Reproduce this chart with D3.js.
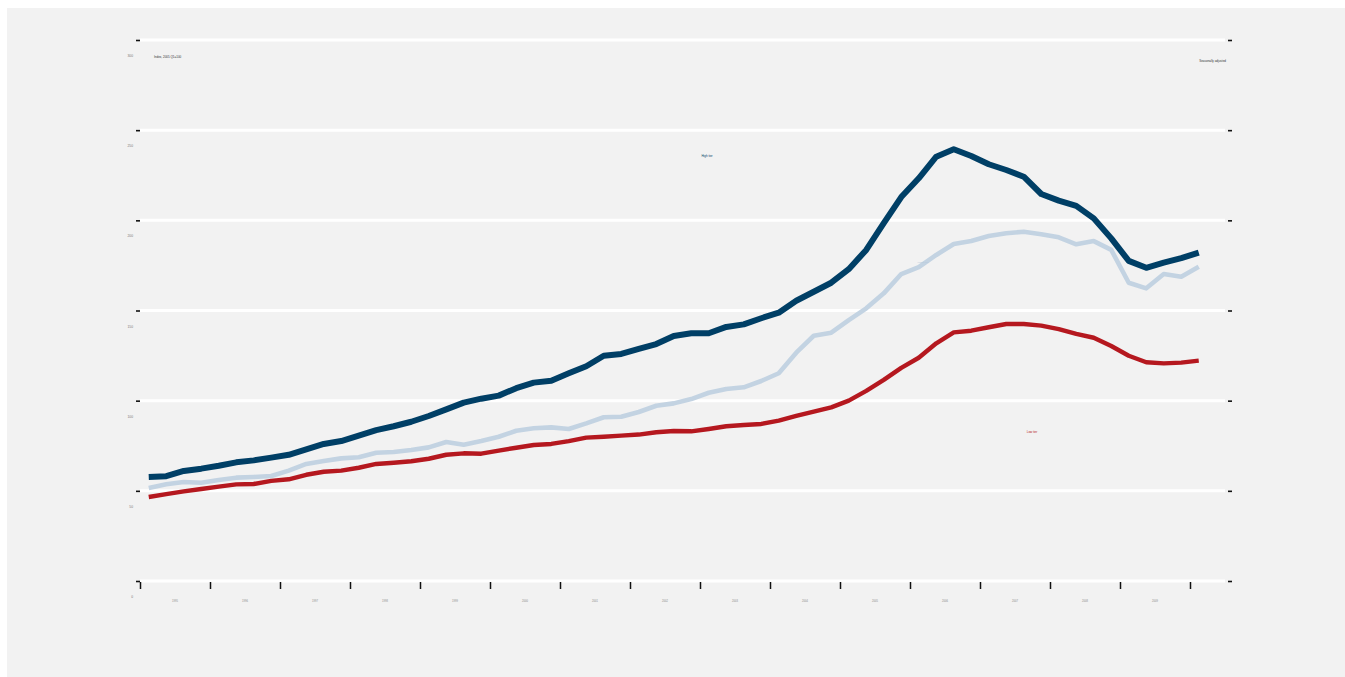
<!DOCTYPE html>
<html>
<head>
<meta charset="utf-8">
<script src="https://cdn.jsdelivr.net/npm/d3@7"></script>
<style>
  html, body { margin: 0; padding: 0; background: #ffffff; }
  svg { display: block; font-family: "Liberation Sans", Arial, sans-serif; }
</style>
</head>
<body>
<div id="chart"></div>
<script>
// quarterly index values, 1995 Q1 .. 2010 Q1
const startYear = 1995;
const yearLabels = ['1995', '1996', '1997', '1998', '1999', '2000', '2001', '2002',
  '2003', '2004', '2005', '2006', '2007', '2008', '2009'];
const yTicks = [0, 50, 100, 150, 200, 250, 300];

const highTier = [57.7, 58.1, 61.0, 62.3, 63.9, 65.8, 66.9, 68.4, 70.0, 73.0,
  76.0, 77.6, 80.6, 83.7, 85.8, 88.3, 91.5, 95.2, 98.9, 101.1,
  102.8, 106.9, 110.0, 111.1, 115.2, 119.1, 124.9, 125.9, 128.7, 131.4,
  135.9, 137.4, 137.4, 140.9, 142.3, 145.7, 148.8, 155.4, 160.4, 165.4,
  172.9, 183.6, 198.4, 212.9, 223.3, 235.3, 239.4, 235.7, 231.1, 227.9,
  224.2, 214.6, 210.9, 208.0, 201.1, 190.0, 177.5, 173.7, 176.5, 179.0, 182.1];

const middleTier = [51.6, 53.6, 54.9, 54.5, 56.0, 57.3, 57.7, 58.2, 61.2, 64.9,
  66.5, 68.0, 68.6, 71.1, 71.5, 72.6, 74.1, 77.1, 75.6, 77.6,
  80.0, 83.3, 84.7, 85.2, 84.3, 87.4, 90.8, 91.1, 93.7, 97.2,
  98.5, 100.9, 104.4, 106.5, 107.4, 110.9, 115.2, 126.6, 136.0, 137.7,
  144.7, 151.2, 159.5, 170.2, 174.0, 180.8, 186.9, 188.5, 191.3, 192.8,
  193.7, 192.3, 190.6, 186.7, 188.5, 183.6, 165.4, 162.3, 170.2, 168.7, 174.3];

const lowTier = [46.6, 48.2, 49.7, 51.0, 52.3, 53.6, 53.8, 55.5, 56.4, 58.9,
  60.6, 61.2, 62.8, 64.9, 65.6, 66.4, 67.8, 70.0, 70.8, 70.6,
  72.3, 73.9, 75.4, 76.0, 77.6, 79.5, 80.0, 80.6, 81.2, 82.5,
  83.2, 83.0, 84.3, 85.8, 86.5, 87.1, 88.9, 91.5, 93.9, 96.3,
  100.0, 105.4, 111.5, 118.2, 123.8, 131.8, 137.9, 138.8, 140.7, 142.5,
  142.5, 141.6, 139.7, 137.0, 134.9, 130.3, 124.9, 121.3, 120.7, 121.1, 122.2];

const width = 1345, height = 677;
const margin = { top: 40, right: 120, bottom: 96, left: 140 };

const svg = d3.select('#chart').append('svg')
  .attr('width', width)
  .attr('height', height);

svg.append('rect')
  .attr('x', 7).attr('y', 8)
  .attr('width', width - 7).attr('height', height - 8)
  .attr('fill', '#f2f2f2');

// x position of quarter i sits in the middle of the quarter
const quarterPos = i => startYear + (i + 0.5) / 4;

const x = d3.scaleLinear()
  .domain([startYear, startYear + 15.5])
  .range([margin.left, width - margin.right]);

const y = d3.scaleLinear()
  .domain([0, 300])
  .range([height - margin.bottom, margin.top]);

// gridlines
svg.append('g')
  .selectAll('line')
  .data(yTicks)
  .join('line')
  .attr('x1', x.range()[0])
  .attr('x2', x.range()[1])
  .attr('y1', d => y(d))
  .attr('y2', d => y(d))
  .attr('stroke', '#ffffff')
  .attr('stroke-width', 3);

// y tick marks, both sides
const yLeft = svg.append('g')
  .attr('transform', `translate(${x.range()[0]},0)`)
  .call(d3.axisLeft(y).tickValues(yTicks).tickSize(4).tickFormat(''));
const yRight = svg.append('g')
  .attr('transform', `translate(${x.range()[1] + 3},0)`)
  .call(d3.axisRight(y).tickValues(yTicks).tickSize(4).tickFormat(''));
[yLeft, yRight].forEach(g => {
  g.select('.domain').remove();
  g.selectAll('.tick line').attr('stroke', '#111').attr('stroke-width', 1.6);
});

// y labels sit just under each gridline
svg.append('g')
  .selectAll('text')
  .data(yTicks)
  .join('text')
  .attr('x', 133)
  .attr('y', d => y(d) + 17)
  .attr('text-anchor', 'end')
  .attr('font-size', 3.3)
  .attr('fill', '#777')
  .text(d => d);

// x ticks at year boundaries
const yearTicks = d3.range(startYear, startYear + 16);
const xAxis = svg.append('g')
  .attr('transform', `translate(0,${y(0) + 1})`)
  .call(d3.axisBottom(x).tickValues(yearTicks).tickSize(7).tickFormat(''));
xAxis.select('.domain').remove();
xAxis.selectAll('.tick line').attr('stroke', '#111').attr('stroke-width', 1.5);

// year labels centred in each year
svg.append('g')
  .selectAll('text')
  .data(yearLabels)
  .join('text')
  .attr('x', (d, i) => x(startYear + i + 0.5))
  .attr('y', y(0) + 21)
  .attr('text-anchor', 'middle')
  .attr('font-size', 2.6)
  .attr('fill', '#888')
  .text(d => d);

// lines
const line = d3.line()
  .x((d, i) => x(quarterPos(i)))
  .y(d => y(d));

const series = [
  { name: 'Middle tier', values: middleTier, color: '#c3d3e2', width: 4.6 },
  { name: 'Low tier', values: lowTier, color: '#b5181f', width: 4.4 },
  { name: 'High tier', values: highTier, color: '#003f66', width: 6 }
];

svg.append('g')
  .selectAll('path')
  .data(series)
  .join('path')
  .attr('fill', 'none')
  .attr('stroke', d => d.color)
  .attr('stroke-width', d => d.width)
  .attr('stroke-linejoin', 'round')
  .attr('d', d => line(d.values));

// labels
svg.append('text')
  .attr('x', 707).attr('y', 157)
  .attr('text-anchor', 'middle')
  .attr('font-size', 3)
  .attr('fill', '#003f66')
  .text('High tier');

svg.append('text')
  .attr('x', 923).attr('y', 263)
  .attr('text-anchor', 'middle')
  .attr('font-size', 2.4)
  .attr('fill', '#b8c8d8')
  .text('Middle tier');

svg.append('text')
  .attr('x', 1032).attr('y', 433)
  .attr('text-anchor', 'middle')
  .attr('font-size', 3)
  .attr('fill', '#b5181f')
  .text('Low tier');

svg.append('text')
  .attr('x', 154).attr('y', 58)
  .attr('font-size', 3)
  .attr('fill', '#333')
  .text('Index, 2005 Q1=100');

svg.append('text')
  .attr('x', 1226).attr('y', 62)
  .attr('text-anchor', 'end')
  .attr('font-size', 3)
  .attr('fill', '#333')
  .text('Seasonally adjusted');
</script>
</body>
</html>
